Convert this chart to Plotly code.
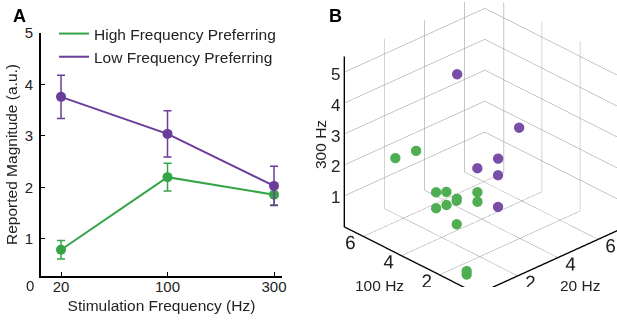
import plotly.graph_objects as go

# ---------------- Panel A data ----------------
freq_labels = ["20", "100", "300"]
high_mean = [0.79, 2.20, 1.86]
high_err = [0.18, 0.27, 0.20]
low_mean = [3.76, 3.04, 2.03]
low_err = [0.42, 0.45, 0.38]
y_ticks_a = [1, 2, 3, 4, 5]

# ---------------- Panel B data (20 Hz, 100 Hz, 300 Hz) ----------------
high_20 = [0.8, 1.0, 0.8, 0.8, 1.5, 0.8, 0.6, 0.7, 0.6, 1.2, 0.5, 0.4, 0.3]
high_100 = [5.17, 4.29, 3.03, 2.49, 1.60, 1.94, 1.74, 2.38, 2.82, 1.28, 1.63, 1.00, 0.90]
high_300 = [2.56, 3.01, 2.12, 2.30, 2.36, 2.25, 2.31, 1.94, 1.73, 2.24, 1.61, 0.32, 0.27]
low_20 = [3.5, 4.5, 3.5, 3.5, 4.0, 3.8]
low_100 = [4.77, 2.57, 2.62, 3.71, 3.15, 2.94]
low_300 = [4.60, 3.26, 2.54, 1.89, 1.69, 0.79]
xy_ticks_b = [2, 4, 6]
z_ticks_b = [1, 2, 3, 4, 5]

green = "#35a447"
purple = "#6a3d9a"
green_b = "#4fae52"
purple_b = "#7a4ea8"
font_fam = "Arial, Liberation Sans, Helvetica, sans-serif"
txt = "#222222"

fig = go.Figure()

fig.add_trace(go.Scatter(
    x=freq_labels, y=high_mean, mode="lines", name="High Frequency Preferring",
    line=dict(color=green, width=2), xaxis="x", yaxis="y"))
fig.add_trace(go.Scatter(
    x=freq_labels, y=low_mean, mode="lines", name="Low Frequency Preferring",
    line=dict(color=purple, width=2), xaxis="x", yaxis="y"))
fig.add_trace(go.Scatter(
    x=freq_labels, y=high_mean, mode="markers", showlegend=False,
    marker=dict(size=10, color=green),
    error_y=dict(type="data", array=high_err, color=green, thickness=1.5, width=4),
    xaxis="x", yaxis="y"))
fig.add_trace(go.Scatter(
    x=freq_labels, y=low_mean, mode="markers", showlegend=False,
    marker=dict(size=10, color=purple),
    error_y=dict(type="data", array=low_err, color=purple, thickness=1.5, width=4),
    xaxis="x", yaxis="y"))

fig.add_trace(go.Scatter3d(
    x=high_20, y=high_100, z=high_300, mode="markers", showlegend=False,
    marker=dict(size=6, color=green_b, line=dict(width=0)), scene="scene"))
fig.add_trace(go.Scatter3d(
    x=low_20, y=low_100, z=low_300, mode="markers", showlegend=False,
    marker=dict(size=6, color=purple_b, line=dict(width=0)), scene="scene"))

W, H = 617, 325
XR = [0, 7]
YR = [0, 7]
ZR = [0, 5.5]

def ax3d(rng, tv, labels=True):
    return dict(range=rng, tickvals=tv, title=dict(text=""), showline=True,
                linecolor="black", linewidth=3, gridcolor="#8c8c8c", gridwidth=1,
                showbackground=False, zeroline=False, ticks="", showspikes=False,
                tickangle=0, showticklabels=labels,
                tickfont=dict(family=font_fam, size=15, color=txt))

# z tick labels placed next to the vertical axis edge (20 Hz min, 100 Hz max)
z_tick_ann = [dict(x=XR[0], y=YR[1], z=v, text=str(v), showarrow=False,
                   xanchor="right", yanchor="middle", xshift=-2, yshift=-2,
                   font=dict(family=font_fam, size=17, color=txt)) for v in z_ticks_b]

shift = (-0.115, 0.109, 0.0)
eye0 = (-1.3, -1.37, 1.03)

fig.update_layout(
    width=W, height=H, margin=dict(l=0, r=0, t=0, b=0, pad=0, autoexpand=False),
    paper_bgcolor="white", plot_bgcolor="white",
    font=dict(family=font_fam, size=15, color=txt),
    showlegend=True,
    legend=dict(x=54 / W, y=1 - 17 / H, xanchor="left", yanchor="top",
                bgcolor="rgba(0,0,0,0)", font=dict(size=15.5, color=txt),
                tracegroupgap=0),
    xaxis=dict(domain=[41 / W, 282 / W], type="category", range=[-0.188, 2.075],
               showline=True, linecolor="black", linewidth=2, ticks="inside",
               ticklen=4, tickcolor="black", showgrid=False, zeroline=False,
               tickfont=dict(size=15), anchor="y", ticklabelstandoff=-4,
               title=dict(text="Stimulation Frequency (Hz)", font=dict(size=15.5), standoff=6)),
    yaxis=dict(domain=[1 - 276 / H, 1 - 33 / H], range=[0.28, 5], tickvals=y_ticks_a,
               showline=True, linecolor="black", linewidth=2, ticks="inside",
               ticklen=4, tickcolor="black", showgrid=False, zeroline=False,
               tickfont=dict(size=15), anchor="x", ticklabelstandoff=3,
               title=dict(text="Reported Magnitude (a.u.)", font=dict(size=15.5), standoff=3)),
    scene=dict(
        domain=dict(x=[300 / W, 1.0], y=[1 - 287 / H, 1]),
        xaxis=ax3d(XR, xy_ticks_b),
        yaxis=ax3d(YR, xy_ticks_b),
        zaxis=ax3d(ZR, z_ticks_b, labels=False),
        aspectmode="manual",
        aspectratio=dict(x=1.35, y=1.35, z=1.35),
        camera=dict(projection=dict(type="orthographic"),
                    eye=dict(x=eye0[0] + shift[0], y=eye0[1] + shift[1], z=eye0[2] + shift[2]),
                    up=dict(x=0, y=0, z=1),
                    center=dict(x=shift[0], y=shift[1], z=shift[2])),
        annotations=z_tick_ann,
        bgcolor="white"),
    annotations=[
        dict(text="<b>A</b>", x=11 / W, y=1 - 16 / H, xref="paper", yref="paper",
             showarrow=False, font=dict(size=18, color="black"), xanchor="left", yanchor="middle"),
        dict(text="<b>B</b>", x=327 / W, y=1 - 16 / H, xref="paper", yref="paper",
             showarrow=False, font=dict(size=18, color="black"), xanchor="left", yanchor="middle"),
        dict(text="0", x=36 / W, y=1 - 285 / H, xref="paper", yref="paper",
             showarrow=False, font=dict(size=15), xanchor="right", yanchor="middle"),
        dict(text="300 Hz", x=320 / W, y=1 - 145 / H, xref="paper", yref="paper",
             showarrow=False, font=dict(size=15.5), textangle=-90, xanchor="center", yanchor="middle"),
        dict(text="100 Hz", x=379 / W, y=1 - 285 / H, xref="paper", yref="paper",
             showarrow=False, font=dict(size=15.5), xanchor="center", yanchor="middle"),
        dict(text="20 Hz", x=580 / W, y=1 - 285 / H, xref="paper", yref="paper",
             showarrow=False, font=dict(size=15.5), xanchor="center", yanchor="middle"),
    ],
)

fig.write_html("out.html", config={"displayModeBar": False},
               post_script="document.body.style.margin='0';document.body.style.padding='0';")
